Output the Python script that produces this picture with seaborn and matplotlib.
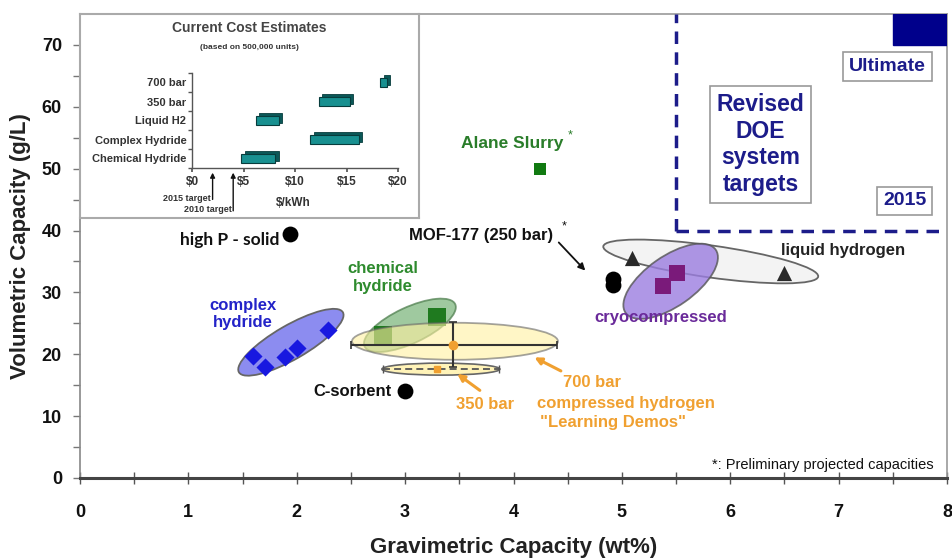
import numpy as np
import pandas as pd
import matplotlib
matplotlib.use("Agg")
import matplotlib.pyplot as plt
import seaborn as sns
from matplotlib.patches import Ellipse, Rectangle
from matplotlib.transforms import ScaledTranslation

# ---------------- data ----------------
complex_x = [1.60, 1.71, 1.89, 2.00, 2.29]
complex_y = [19.7, 17.9, 19.5, 21.0, 24.0]
chem_x = [2.80, 3.29]
chem_y = [23.1, 26.0]
cryo_x = [5.38, 5.51]
cryo_y = [31.1, 33.1]
lh2_x = [5.09, 6.50]
lh2_y = [35.6, 33.2]
alane_x = [4.24]
alane_y = [50.0]
sorbent_x = [1.94, 4.92, 4.92, 3.00]
sorbent_y = [39.4, 32.1, 31.2, 14.0]
c700_x, c700_y = 3.44, 21.45
c700_x_range = [2.50, 4.40]
c700_y_range = [17.9, 25.2]
c350_x, c350_y = 3.29, 17.6
c350_x_range = [2.80, 3.87]
target_2015 = (5.5, 40.0)
target_ultimate = (7.5, 70.0)

cost_cats = ["Chemical Hydride", "Complex Hydride", "Liquid H2", "350 bar", "700 bar"]
cost_low = [4.8, 11.5, 6.2, 12.3, 18.3]
cost_high = [8.1, 16.2, 8.4, 15.3, 18.9]
cost_ticks = [0, 5, 10, 15, 20]
cost_tick_labels = ["\\$0", "\\$5", "\\$10", "\\$15", "\\$20"]
cost_targets = [2, 4]
cost_target_labels = ["2015 target", "2010 target"]

# ---------------- style ----------------
sns.set_theme(style="ticks")
plt.rcParams["font.family"] = ["Liberation Sans", "DejaVu Sans"]
plt.rcParams["lines.scale_dashes"] = False

W, H = 952, 558
fig = plt.figure(figsize=(W / 100, H / 100), dpi=100)
fig.patch.set_facecolor("white")

def fx(px):
    return px / W

def fy(py):
    return 1 - py / H

ax = fig.add_axes([fx(80), fy(478), fx(947) - fx(80), fy(14) - fy(478)])
ax.set_xlim(0, 8)
ax.set_ylim(0, 75)
ax.set_facecolor("white")

NAVY = "#1c1c8a"
ORANGE = "#f0a030"
GREEN = "#2a7d2a"
BLUE = "#1818e0"
PURPLE = "#7a1a7a"

def px_ellipse(cx, cy, w_px, h_px, angle, z, **kw):
    tr = fig.dpi_scale_trans + ScaledTranslation(cx, cy, ax.transData)
    e = Ellipse((0, 0), w_px / 100, h_px / 100, angle=angle, transform=tr,
                zorder=z, **kw)
    ax.add_patch(e)

# ellipses (regions)
px_ellipse(5.82, 35.0, 217, 32, -8, 2.0, facecolor="#f3f3f3", edgecolor="#666666", lw=1.3)
px_ellipse(5.45, 31.8, 110, 50, 35, 2.1, facecolor="#9b7de0", alpha=0.8, edgecolor="#555555", lw=1.3)
px_ellipse(1.946, 21.94, 120, 34, 30, 2.0, facecolor="#8c8cf0", edgecolor="#666666", lw=1.3)
px_ellipse(3.044, 24.68, 100, 36, 25, 2.0, facecolor="#7fb87f", alpha=0.75, edgecolor="#4f7f4f", lw=1.3)
px_ellipse(3.46, 22.1, 206, 37, 0, 3.2, facecolor="#fff0a0", alpha=0.6, edgecolor="#666666", lw=1.3)
px_ellipse(3.33, 17.6, 118, 12, 0, 2.0, facecolor="#fff3b8", edgecolor="#666666", lw=1.2)

# points
sns.scatterplot(x=complex_x, y=complex_y, marker="D", s=85, color=BLUE, linewidth=0, ax=ax, zorder=4)
sns.scatterplot(x=chem_x, y=chem_y, marker="s", s=170, color="#1f7a1f", linewidth=0, ax=ax, zorder=3)
sns.scatterplot(x=cryo_x, y=cryo_y, marker="s", s=130, color=PURPLE, linewidth=0, ax=ax, zorder=4)
sns.scatterplot(x=lh2_x, y=lh2_y, marker="^", s=120, color="#2a2a2a", linewidth=0, ax=ax, zorder=4)
sns.scatterplot(x=alane_x, y=alane_y, marker="s", s=80, color="#117a11", linewidth=0, ax=ax, zorder=4)
sns.scatterplot(x=sorbent_x, y=sorbent_y, marker="o", s=130, color="black", linewidth=0, ax=ax, zorder=4)

# compressed hydrogen error bars
ax.errorbar([c700_x], [c700_y],
            xerr=[[c700_x - c700_x_range[0]], [c700_x_range[1] - c700_x]],
            yerr=[[c700_y - c700_y_range[0]], [c700_y_range[1] - c700_y]],
            fmt="o", ms=6, color=ORANGE, ecolor="#333333", elinewidth=1.5,
            capsize=3, capthick=1.2, zorder=4)
eb = ax.errorbar([c350_x], [c350_y],
                 xerr=[[c350_x - c350_x_range[0]], [c350_x_range[1] - c350_x]],
                 fmt="s", ms=5, color=ORANGE, ecolor="#555555", elinewidth=1.3,
                 capsize=3, capthick=1.0, zorder=4)
eb[2][0].set_linestyle((0, (5, 3)))

# target box
ax.plot([target_2015[0], target_2015[0]], [target_2015[1], 75], color=NAVY, lw=2.5,
        dashes=(9, 6), zorder=3)
ax.plot([target_2015[0], 8], [target_2015[1], target_2015[1]], color=NAVY, lw=2.5,
        dashes=(9, 6), zorder=3)
ax.add_patch(Rectangle(target_ultimate, 8 - target_ultimate[0], 75 - target_ultimate[1],
                       color="#00008b", zorder=3, clip_on=True))

box = dict(boxstyle="square,pad=0.3", facecolor="white", edgecolor="#999999", lw=1.2)
ax.text(7.45, 66.5, "Ultimate", color=NAVY, fontsize=14, fontweight="bold",
        ha="center", va="center", bbox=box, zorder=5)
ax.text(6.28, 53.9, "Revised\nDOE\nsystem\ntargets", color=NAVY, fontsize=16.5,
        fontweight="bold", ha="center", va="center", linespacing=1.2,
        bbox=dict(boxstyle="square,pad=0.3", facecolor="white", edgecolor="#999999", lw=1.2),
        zorder=5)
ax.text(7.61, 44.8, "2015", color=NAVY, fontsize=14, fontweight="bold",
        ha="center", va="center", bbox=box, zorder=5)

# labels
ax.text(3.99, 54.0, "Alane Slurry", color=GREEN, fontsize=12.5, fontweight="bold",
        ha="center", va="center")
ax.text(4.52, 55.3, "*", color=GREEN, fontsize=9, ha="center", va="center")
ax.text(1.84, 38.4, "high P - solid", color="#111111", fontsize=12.5, fontweight="bold",
        ha="right", va="center", family=["Lato", "DejaVu Sans"])
ax.text(4.37, 39.2, "MOF-177 (250 bar)", color="#111111", fontsize=12, fontweight="bold",
        ha="right", va="center")
ax.text(4.47, 40.6, "*", color="#111111", fontsize=9, ha="center", va="center")
ax.annotate("", xy=(4.68, 33.2), xytext=(4.40, 38.4),
            arrowprops=dict(arrowstyle="-|>", color="#111111", lw=1.3, mutation_scale=10))
ax.text(7.04, 36.8, "liquid hydrogen", color="#222222", fontsize=12, fontweight="bold",
        ha="center", va="center")
ax.text(5.36, 25.9, "cryocompressed", color="#6a2a9a", fontsize=12, fontweight="bold",
        ha="center", va="center")
ax.text(2.79, 32.4, "chemical\nhydride", color="#2e8b2e", fontsize=12, fontweight="bold",
        ha="center", va="center", linespacing=1.2)
ax.text(1.50, 26.5, "complex\nhydride", color="#2323c8", fontsize=12, fontweight="bold",
        ha="center", va="center", linespacing=1.2)
ax.text(2.88, 14.0, "C-sorbent", color="#111111", fontsize=12, fontweight="bold",
        ha="right", va="center")
ax.text(3.74, 11.9, "350 bar", color=ORANGE, fontsize=12, fontweight="bold",
        ha="center", va="center")
ax.annotate("", xy=(3.46, 17.1), xytext=(3.71, 13.9),
            arrowprops=dict(arrowstyle="-|>", color=ORANGE, lw=2.2, mutation_scale=10))
ax.annotate("", xy=(4.17, 19.7), xytext=(4.46, 17.1),
            arrowprops=dict(arrowstyle="-|>", color=ORANGE, lw=2.2, mutation_scale=10))
ax.text(4.46, 15.5, "700 bar", color=ORANGE, fontsize=12, fontweight="bold",
        ha="left", va="center")
ax.text(4.22, 12.1, "compressed hydrogen", color=ORANGE, fontsize=12, fontweight="bold",
        ha="left", va="center")
ax.text(4.24, 8.9, "\"Learning Demos\"", color=ORANGE, fontsize=12, fontweight="bold",
        ha="left", va="center")
ax.text(7.88, 2.1, "*: Preliminary projected capacities", color="#111111", fontsize=10.5,
        ha="right", va="center")

# axes styling
ax.set_xticks(range(0, 9))
ax.set_xticks(np.arange(0.5, 8, 1.0), minor=True)
ax.set_yticks(range(0, 71, 10))
ax.set_yticks(range(5, 75, 10), minor=True)
ax.tick_params(axis="x", which="both", direction="inout", length=8, width=1, color="#555555",
               labelsize=13, pad=15, labelcolor="#111111")
ax.tick_params(axis="y", which="both", direction="out", length=5, width=1, color="#777777",
               labelsize=13, pad=8, labelcolor="#111111")
for lab in ax.get_xticklabels() + ax.get_yticklabels():
    lab.set_fontweight("bold")
for s in ["top", "right"]:
    ax.spines[s].set_visible(True)
    ax.spines[s].set_color("#999999")
    ax.spines[s].set_linewidth(1.2)
ax.spines["left"].set_color("#888888")
ax.spines["left"].set_linewidth(1.2)
ax.spines["bottom"].set_color("#444444")
ax.spines["bottom"].set_linewidth(2.2)
ax.set_xlabel("Gravimetric Capacity (wt%)", fontsize=16, fontweight="bold",
              color="#222222", labelpad=11)
ax.set_ylabel("Volumetric Capacity (g/L)", fontsize=16, fontweight="bold",
              color="#222222", labelpad=8)

# ---------------- inset ----------------
fr = fig.add_axes([fx(80), fy(218), fx(419) - fx(80), fy(14) - fy(218)], zorder=5)
fr.set_facecolor("white")
fr.set_xticks([])
fr.set_yticks([])
for s in fr.spines.values():
    s.set_color("#aaaaaa")
    s.set_linewidth(1.5)
fr.text(0.50, 0.93, "Current Cost Estimates", transform=fr.transAxes, ha="center",
        va="center", fontsize=10, fontweight="bold", color="#444444")
fr.text(0.50, 0.838, "(based on 500,000 units)", transform=fr.transAxes, ha="center",
        va="center", fontsize=6, fontweight="bold", color="#333333")

ai = fig.add_axes([fx(192), fy(168), fx(398) - fx(192), fy(73) - fy(168)], zorder=6)
ai.set_facecolor("none")
ypos = np.arange(len(cost_cats))
widths = [h - l for l, h in zip(cost_low, cost_high)]
ai.barh(ypos + 0.13, widths, left=[l + 0.35 for l in cost_low], height=0.5,
        color="#0b5858", edgecolor="#073c3c", lw=0.6)
ai.barh(ypos, widths, left=cost_low, height=0.5, color="#189090",
        edgecolor="#073c3c", lw=0.8)
ai.set_xlim(0, 20)
ai.set_ylim(-0.5, 4.5)
ai.set_yticks(ypos)
ai.set_yticklabels(cost_cats)
ai.set_yticks(np.arange(-0.5, 5, 1.0), minor=True)
ai.set_xticks(cost_ticks)
ai.set_xticklabels(cost_tick_labels)
ai.tick_params(axis="y", which="major", length=0, pad=4, labelsize=8, labelcolor="#333333")
ai.tick_params(axis="y", which="minor", length=3, color="#555555", direction="out")
ai.tick_params(axis="x", which="major", length=3, color="#555555", direction="out",
               labelsize=8.5, pad=3, labelcolor="#333333")
for lab in ai.get_xticklabels() + ai.get_yticklabels():
    lab.set_fontweight("bold")
for s in ["top", "right"]:
    ai.spines[s].set_visible(False)
for s in ["left", "bottom"]:
    ai.spines[s].set_color("#555555")
    ai.spines[s].set_linewidth(1.0)

trx = ai.get_xaxis_transform()
for xv, lab, ylo in zip(cost_targets, cost_target_labels, [-0.36, -0.48]):
    ai.annotate("", xy=(xv, -0.02), xycoords=trx, xytext=(xv, ylo), textcoords=trx,
                arrowprops=dict(arrowstyle="-|>", color="#111111", lw=1.0, mutation_scale=7),
                annotation_clip=False)
    ai.text(xv - 0.15, ylo + 0.04, lab, transform=trx, ha="right", va="center",
            fontsize=6.5, fontweight="bold", color="#333333", clip_on=False)
ai.text(9.8, -0.37, "\\$/kWh", transform=trx, ha="center", va="center", fontsize=8.5,
        fontweight="bold", color="#333333", clip_on=False)

fig.savefig("out.png", dpi=100, facecolor="white")
